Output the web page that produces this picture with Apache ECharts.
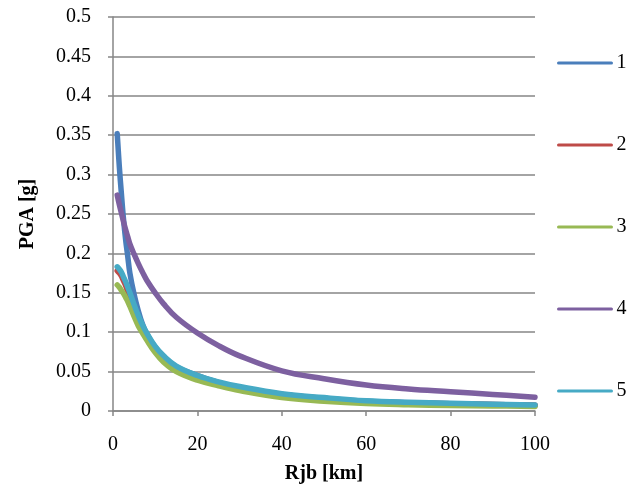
<!DOCTYPE html>
<html>
<head>
<meta charset="utf-8">
<script src="https://cdn.jsdelivr.net/npm/echarts@6/dist/echarts.min.js"></script>
<style>html,body{margin:0;padding:0;background:#fff}#c{width:638px;height:493px}</style>
</head>
<body>
<div id="c"></div>
<script>
var distances = [1,1.5,2,2.5,3,3.5,4,5,6,7,8,10,12,15,20,25,30,40,50,60,70,80,90,100];
var seriesNames = ['1','2','3','4','5'];
var s1 = [0.352,0.31,0.275,0.243,0.217,0.196,0.175,0.148,0.127,0.11,0.098,0.081,0.069,0.056,0.045,0.036,0.030,0.021,0.016,0.0125,0.0105,0.0093,0.0082,0.0074];
var s2 = [0.178,0.175,0.171,0.165,0.159,0.152,0.146,0.131,0.118,0.106,0.097,0.080,0.068,0.055,0.044,0.036,0.029,0.021,0.016,0.012,0.0105,0.0093,0.0082,0.0072];
var s3 = [0.16,0.157,0.153,0.149,0.144,0.139,0.133,0.12,0.108,0.099,0.09,0.074,0.062,0.050,0.039,0.032,0.026,0.017,0.0125,0.0095,0.008,0.007,0.0064,0.0058];
var s4 = [0.274,0.262,0.251,0.24,0.23,0.221,0.212,0.199,0.187,0.176,0.166,0.15,0.136,0.119,0.099,0.083,0.07,0.051,0.041,0.033,0.028,0.0245,0.021,0.0175];
var s5 = [0.183,0.18,0.176,0.17,0.164,0.157,0.15,0.135,0.121,0.109,0.099,0.082,0.070,0.057,0.045,0.037,0.031,0.022,0.017,0.013,0.011,0.0098,0.0086,0.0076];
var colors = ['#4A7EBB','#BE4B48','#98B954','#7D60A0','#46AAC5'];
var allValues = [s1,s2,s3,s4,s5];

var font = '"Liberation Serif","Times New Roman",serif';
var gridColor = '#868686';

var chart = echarts.init(document.getElementById('c'));
chart.setOption({
  animation: false,
  grid: {left: 113, right: 103, top: 17, bottom: 82, containLabel: false, outerBoundsMode: 'none'},
  legend: {
    orient: 'vertical', left: 552, top: 48,
    itemWidth: 53, itemHeight: 20, itemGap: 62,
    itemStyle: {opacity: 0},
    lineStyle: {width: 3},
    textStyle: {fontFamily: font, fontSize: 20, color: '#000', lineHeight: 20},
    data: seriesNames
  },
  xAxis: {
    type: 'value', min: 0, max: 100, interval: 20,
    name: 'Rjb [km]', nameLocation: 'middle', nameGap: 53,
    nameTextStyle: {fontFamily: font, fontSize: 20, fontWeight: 'bold', color: '#000'},
    axisLine: {lineStyle: {color: gridColor, width: 1.5}},
    axisTick: {show: true, inside: false, length: 5, lineStyle: {color: gridColor, width: 1.5}},
    axisLabel: {fontFamily: font, fontSize: 20, color: '#000', margin: 24},
    splitLine: {show: false}
  },
  yAxis: {
    type: 'value', min: 0, max: 0.5, interval: 0.05,
    name: 'PGA [g]', nameLocation: 'middle', nameGap: 75, nameRotate: 90,
    nameTextStyle: {fontFamily: font, fontSize: 20, fontWeight: 'bold', color: '#000'},
    axisLine: {show: true, lineStyle: {color: gridColor, width: 1.5}},
    axisTick: {show: true, inside: false, length: 5, lineStyle: {color: gridColor, width: 1.5}},
    axisLabel: {fontFamily: font, fontSize: 20, color: '#000', margin: 22,
      formatter: function(v){ return String(parseFloat(v.toFixed(2))); }},
    splitLine: {show: true, lineStyle: {color: gridColor, width: 1.5}}
  },
  series: seriesNames.map(function(n, i){
    return {
      name: n, type: 'line', smooth: 0.4,
      symbol: 'none', color: colors[i],
      lineStyle: {width: 5.5, color: colors[i], cap: 'round', join: 'round'},
      data: distances.map(function(d, j){ return [d, allValues[i][j]]; })
    };
  })
});
</script>
</body>
</html>
